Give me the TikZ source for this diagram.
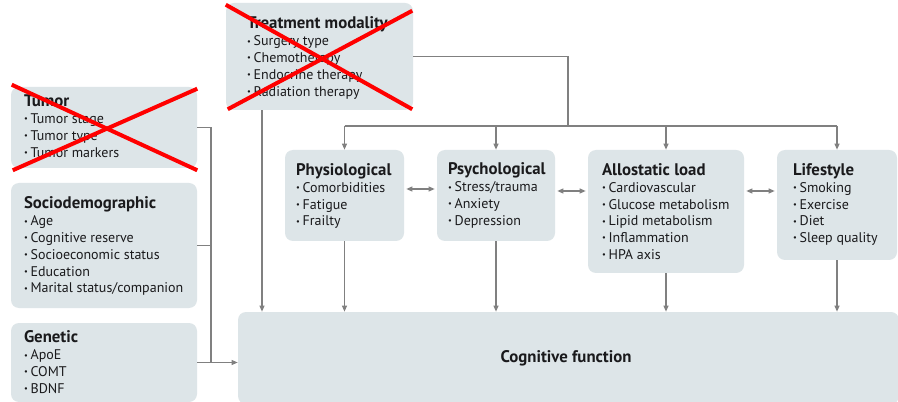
\documentclass[tikz,border=0pt]{standalone}
\usepackage{fontspec}
\usepackage{graphicx}
\setmainfont{PT Sans}
\usetikzlibrary{arrows.meta,calc}
\definecolor{boxc}{HTML}{DDE5E8}
\definecolor{txtc}{HTML}{1A1A1C}
\definecolor{arrc}{HTML}{808080}
\newcommand\bul{\raisebox{0.12em}{\scalebox{0.6}{•}}\hspace{0.2em}}
\newcommand\ttl[1]{{\fontsize{12.6}{12.6}\selectfont\bfseries #1}}
\begin{document}
\begin{tikzpicture}[x=0.75pt,y=-0.75pt,
  box/.style={fill=boxc,rounded corners=6pt,inner sep=0pt,draw=none},
  txt/.style={anchor=north west,inner sep=0pt,align=left,text=txtc,
    font=\fontsize{10.5}{12.6}\selectfont},
  arr/.style={draw=arrc,line width=1pt,-{Triangle[length=4.5pt,width=3.6pt]}},
  darr/.style={draw=arrc,line width=1pt,{Triangle[length=4.5pt,width=3.6pt]}-{Triangle[length=4.5pt,width=3.6pt]},shorten <=1.5pt,shorten >=1.5pt},
  ln/.style={draw=arrc,line width=1pt},
  cross/.style={draw=red,line width=3pt}]
\useasboundingbox (0,0) rectangle (898,402);
\fill[white] (0,0) rectangle (898,402);
% boxes
\node[box,minimum width=187*0.75pt,minimum height=107*0.75pt] (tm) at (319.5,56.5) {};
\node[box,minimum width=186*0.75pt,minimum height=81*0.75pt] (tumor) at (104,127.5) {};
\node[box,minimum width=186*0.75pt,minimum height=125*0.75pt] (socio) at (104,245.5) {};
\node[box,minimum width=186*0.75pt,minimum height=79*0.75pt] (gen) at (104,362.5) {};
\node[box,minimum width=661*0.75pt,minimum height=92*0.75pt] (cog) at (568.5,358) {};
\node[box,minimum width=119*0.75pt,minimum height=91*0.75pt] (physio) at (344.5,195.5) {};
\node[box,minimum width=118*0.75pt,minimum height=91*0.75pt] (psych) at (496,195.5) {};
\node[box,minimum width=156*0.75pt,minimum height=123*0.75pt] (allo) at (666,211.5) {};
\node[box,minimum width=120*0.75pt,minimum height=110*0.75pt] (life) at (837,205) {};
% texts
\node[txt] (tmt) at ($(tm.north west)+(21,14)$) {\ttl{Treatment modality}\\ \bul Surgery type\\ \bul Chemotherapy\\ \bul Endocrine therapy\\ \bul Radiation therapy};
\node[txt] (tumort) at ($(tumor.north west)+(13,8)$) {\ttl{Tumor}\\ \bul Tumor stage\\ \bul Tumor type\\ \bul Tumor markers};
\node[txt] (sociot) at ($(socio.north west)+(13,14)$) {\ttl{Sociodemographic}\\ \bul Age\\ \bul Cognitive reserve\\ \bul Socioeconomic status\\ \bul Education\\ \bul Marital status/companion};
\node[txt] (gent) at ($(gen.north west)+(13,8)$) {\ttl{Genetic}\\ \bul ApoE\\ \bul COMT\\ \bul BDNF};
\node[txt] (physiot) at ($(physio.north west)+(11,13.5)$) {\ttl{Physiological}\\ \bul Comorbidities\\ \bul Fatigue\\ \bul Frailty};
\node[txt] (psycht) at ($(psych.north west)+(11,13)$) {\ttl{Psychological}\\ \bul Stress/trauma\\ \bul Anxiety\\ \bul Depression};
\node[txt] (allot) at ($(allo.north west)+(14,13.5)$) {\ttl{Allostatic load}\\ \bul Cardiovascular\\ \bul Glucose metabolism\\ \bul Lipid metabolism\\ \bul Inflammation\\ \bul HPA axis};
\node[txt] (lifet) at ($(life.north west)+(16,13.5)$) {\ttl{Lifestyle}\\ \bul Smoking\\ \bul Exercise\\ \bul Diet\\ \bul Sleep quality};
\node[text=txtc,inner sep=0pt] (cogt) at (566,358) {\ttl{Cognitive function}};
% left junction
\coordinate (jx) at (211,0);
\draw[ln] (tumor.east) -| (jx |- gen.east);
\draw[ln] (socio.east) -- (jx |- socio.east);
\draw[arr] (gen.east) -- (cog.west |- gen.east);
% treatment
\coordinate (tv) at (262,0);
\draw[arr] (tv |- tm.south) -- (tv |- cog.north);
\coordinate (bus) at (568,126);
\draw[ln] (tm.east) -| (bus);
\draw[ln] (physio.north |- bus) -- (life.north |- bus);
\foreach \b in {physio,psych,allo,life}{
  \draw[arr] (\b.north |- bus) -- (\b.north);
  \draw[arr] (\b.south) -- (\b.south |- cog.north);
}
% double arrows
\coordinate (h1) at (0,189);
\coordinate (h2) at (0,191);
\draw[darr] (physio.east |- h1) -- (psych.west |- h1);
\draw[darr] (psych.east |- h2) -- (allo.west |- h2);
\draw[darr] (allo.east |- h2) -- (life.west |- h2);
% red crosses
\draw[cross] ($(tm.north west)+(0,2)$) -- ($(tm.south east)+(-1,-1)$);
\draw[cross] ($(tm.south west)+(2,-1)$) -- ($(tm.north east)+(-1,8)$);
\draw[cross] ($(tumor.north west)+(1,-2)$) -- ($(tumor.south east)+(0,2)$);
\draw[cross] ($(tumor.south west)+(2,2)$) -- ($(tumor.north east)+(0,2)$);
\end{tikzpicture}
\end{document}
